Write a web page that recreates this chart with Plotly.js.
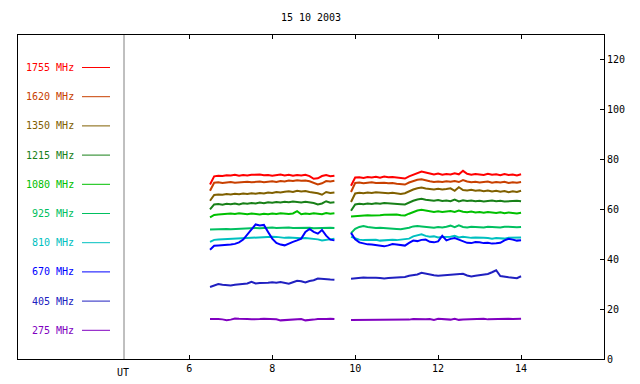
<!DOCTYPE html>
<html><head><meta charset="utf-8">
<script src="https://cdn.plot.ly/plotly-3.0.1.min.js"></script>
<style>html,body{margin:0;padding:0;background:#fff}#chart{width:640px;height:384px}</style>
</head><body><div id="chart"></div>
<script>
const titleText = "15 10 2003";
const times = [6.5,6.6,6.7,6.8,6.9,7.0,7.1,7.2,7.3,7.4,7.5,7.6,7.7,7.8,7.9,8.0,8.1,8.2,8.3,8.4,8.5,8.6,8.7,8.8,8.9,9.0,9.1,9.2,9.3,9.4,9.5,
  9.7,
  9.9,10.0,10.1,10.2,10.3,10.4,10.5,10.6,10.7,10.8,10.9,11.0,11.1,11.2,11.3,11.4,11.5,11.6,11.7,11.8,11.9,12.0,12.1,12.2,12.3,12.4,12.5,12.6,12.7,12.8,12.9,13.0,13.1,13.2,13.3,13.4,13.5,13.6,13.7,13.8,13.9,14.0];
const xTickVals = [6,8,10,12,14];
const yTickVals = [0,20,40,60,80,100,120];

const f1755 = [70.0,73.3,73.5,73.4,73.7,73.6,73.9,73.5,73.8,73.6,73.9,74.1,74.0,73.7,73.8,73.5,73.7,74.0,73.6,73.9,73.5,73.8,73.6,73.9,73.4,72.3,72.5,73.4,73.8,73.3,73.5,
  null,
  69.5,72.8,72.9,72.6,73.0,72.8,73.1,72.7,73.2,72.9,73.0,72.8,72.6,72.4,73.3,74.0,74.6,75.2,74.8,74.3,74.0,74.4,73.9,74.2,74.0,74.5,74.1,75.5,74.3,73.9,74.2,74.0,73.8,74.3,73.9,74.1,73.7,74.2,73.8,74.0,73.6,74.1];
const f1620 = [67.5,70.7,70.9,70.6,70.8,71.0,70.7,70.9,70.8,71.1,70.9,71.0,71.2,70.9,71.1,71.3,71.0,71.4,71.2,71.6,71.4,71.7,71.5,71.6,71.3,70.8,70.0,70.5,71.4,71.2,71.5,
  null,
  67.0,70.6,70.8,70.5,70.7,70.9,70.6,70.8,70.7,70.5,70.6,70.3,70.1,70.0,70.8,71.5,71.9,72.1,71.6,71.3,71.0,71.2,71.0,71.3,71.1,71.4,71.0,71.8,71.2,70.9,71.1,70.8,71.0,71.2,70.7,71.0,70.8,71.1,70.6,70.9,70.7,71.0];
const f1350 = [63.5,65.8,66.0,65.9,66.2,66.0,66.3,66.1,66.4,66.2,66.5,66.3,66.6,66.4,66.8,66.6,67.0,66.8,67.1,67.3,67.0,67.5,67.2,67.4,67.0,66.8,66.5,65.9,67.0,66.6,66.8,
  null,
  63.0,66.4,66.7,66.5,66.8,66.6,66.9,66.7,66.8,66.5,66.7,66.4,66.2,66.5,67.3,68.0,68.5,68.8,68.4,68.2,68.0,68.3,68.0,68.2,68.5,67.5,68.9,67.8,67.6,67.9,67.5,67.7,67.3,67.6,67.2,67.5,67.1,67.4,66.9,67.3,67.0,67.5];
const f1215 = [60.0,62.0,62.2,61.9,62.3,62.1,62.4,62.0,62.5,62.3,62.6,62.4,62.8,62.5,62.9,62.7,63.0,62.8,63.1,62.9,63.2,63.0,62.8,63.1,62.9,62.6,62.0,62.4,63.3,62.7,62.9,
  null,
  59.5,62.0,62.3,62.1,62.4,62.2,62.5,62.3,62.6,62.4,62.5,62.3,62.1,62.0,62.8,63.5,64.0,64.3,63.9,63.7,63.5,63.8,63.4,63.6,63.3,64.0,63.2,63.7,63.4,63.6,63.3,63.5,63.2,63.4,63.6,63.3,63.5,63.2,63.4,63.3,63.5,63.3];
const f1080 = [56.8,57.8,58.0,58.2,58.1,58.4,58.2,58.5,58.3,58.1,58.4,58.2,58.0,58.3,58.1,58.4,58.2,58.5,58.3,58.2,58.4,59.3,58.1,58.4,58.2,58.5,58.3,58.1,58.6,58.3,58.5,
  null,
  57.2,57.4,57.6,57.5,57.7,57.6,57.8,57.7,57.9,58.0,57.8,58.0,57.7,57.6,58.3,59.0,59.6,59.9,59.5,59.2,59.0,59.3,59.0,59.2,59.4,59.0,59.6,59.1,58.9,59.2,58.8,59.0,58.7,59.0,58.8,58.6,58.9,58.5,58.8,58.6,58.4,58.7];
const f925 = [52.0,52.1,52.0,52.1,52.2,52.1,52.2,52.4,52.6,52.5,52.7,52.6,52.5,52.7,52.6,52.8,52.6,52.7,52.5,52.8,52.6,52.7,52.8,52.6,52.7,52.5,52.6,52.8,52.6,52.7,52.6,
  null,
  50.5,52.2,53.0,53.4,53.0,52.7,52.6,52.7,52.5,52.6,52.4,52.2,52.1,52.3,52.7,53.2,53.4,53.2,53.0,52.9,52.7,53.0,52.8,53.1,53.5,52.9,53.6,53.0,52.8,53.1,52.9,53.0,52.8,53.1,52.9,53.0,52.8,53.1,52.9,53.0,52.9,53.0];
const f810 = [47.0,47.8,47.9,48.0,47.8,48.1,48.0,48.2,48.4,48.3,48.5,48.6,48.8,48.9,49.0,49.1,49.0,48.8,48.6,48.7,48.5,48.6,48.4,48.5,48.3,48.4,48.0,47.6,47.8,48.2,48.3,
  null,
  49.0,48.4,47.9,47.7,47.8,47.6,47.8,47.5,47.7,47.6,47.8,47.7,47.9,47.8,48.3,49.2,49.7,50.0,49.4,49.1,49.2,48.8,49.0,48.9,49.1,49.4,48.8,49.0,48.8,48.6,48.7,48.5,48.6,48.5,48.3,48.5,48.4,48.3,48.6,48.7,48.5,48.8];
const f670 = [43.8,45.4,45.5,45.6,45.5,45.9,46.2,46.8,47.9,49.8,52.0,54.0,53.6,53.8,51.0,48.3,46.6,45.9,45.6,46.4,47.0,47.6,48.3,51.0,52.2,51.0,50.3,51.8,49.5,47.9,47.6,
  null,
  50.6,48.0,46.8,46.3,46.0,45.9,45.6,45.4,45.2,45.6,46.1,45.9,45.6,45.5,46.6,47.5,47.3,47.8,47.9,47.0,46.8,47.2,49.4,47.6,48.2,48.5,47.9,47.2,46.6,46.5,46.9,46.8,46.5,46.6,46.3,46.4,46.6,47.6,48.2,47.9,47.5,47.6];
const f405 = [28.9,29.5,30.1,29.8,29.6,29.5,29.8,30.0,29.9,30.3,31.0,30.3,30.5,30.4,30.6,30.8,30.6,30.9,30.7,30.2,30.8,31.4,31.2,30.7,31.3,31.6,32.3,32.1,31.8,31.9,31.8,
  null,
  32.2,32.4,32.8,32.7,32.6,32.7,32.6,32.5,32.3,32.5,32.6,32.7,32.8,32.9,33.4,33.6,33.9,34.6,34.2,33.8,33.6,33.4,33.5,33.7,33.8,34.0,34.1,34.2,33.5,33.1,33.4,33.6,33.9,34.1,34.8,35.6,33.3,32.9,32.8,32.6,32.4,33.2];
const f275 = [16.0,16.1,16.0,15.9,15.6,15.8,16.2,16.1,15.9,16.0,15.9,16.1,16.0,16.1,16.0,16.1,15.9,15.5,15.6,15.8,16.0,15.9,16.0,15.5,15.5,15.8,16.0,15.9,16.0,16.1,16.0,
  null,
  15.6,15.6,15.7,15.6,15.7,15.6,15.6,15.7,15.6,15.6,15.7,15.6,15.8,15.7,15.8,16.0,15.9,15.8,15.9,16.0,15.7,16.1,15.9,16.0,15.8,16.1,15.7,15.8,15.9,15.8,16.0,15.9,16.1,15.9,16.0,15.9,16.0,16.2,16.1,16.0,16.2,16.1];

const labels = ["1755 MHz","1620 MHz","1350 MHz","1215 MHz","1080 MHz","925 MHz","810 MHz","670 MHz","405 MHz","275 MHz"];
const seriesList = [f1755,f1620,f1350,f1215,f1080,f925,f810,f670,f405,f275];
const colors = ["#ff0000","#c84000","#806000","#188018","#00c000","#00c060","#00c0c0","#0000ff","#2020c0","#8000c0"];

const FONT = "DejaVu Sans Mono, monospace";
const traces = seriesList.map((ys, i) => ({
  x: times, y: ys, type: "scatter", mode: "lines", connectgaps: false,
  line: {color: colors[i], width: 2}, hoverinfo: "skip", name: labels[i]
}));

// plot area in pixels: left 18, right 604, top 35, bottom 359
const L = 18, R = 604, T = 35, B = 359;
const px = v => (v - L) / (R - L);
const py = v => (B - v) / (B - T);

const annotations = [];
const shapes = [];
labels.forEach((lab, i) => {
  const yp = py(67.5 + i * 29.2);
  annotations.push({xref:"paper", yref:"paper", x: px(76), y: yp, xanchor:"right", yanchor:"middle",
    text: lab, showarrow:false, font:{family:FONT, size:10, color: colors[i]}});
  shapes.push({type:"line", xref:"paper", yref:"paper", x0: px(82), x1: px(110), y0: yp, y1: yp,
    line:{color: colors[i], width: 1}});
});
shapes.push({type:"line", xref:"paper", yref:"paper", x0: px(124), x1: px(124), y0: 0, y1: 1,
  line:{color:"#808080", width:1}});
annotations.push({xref:"paper", yref:"paper", x: px(123), y: 0, yshift: -6, xanchor:"center", yanchor:"top",
  text:"UT", showarrow:false, font:{family:FONT, size:10, color:"#000"}});

const layout = {
  width: 640, height: 384,
  margin: {l: L, r: 640 - R, t: T, b: 384 - B, pad: 0},
  paper_bgcolor: "#fff", plot_bgcolor: "#fff",
  showlegend: false,
  font: {family: FONT, size: 10, color: "#000"},
  title: {text: titleText, x: px(311), xref: "paper", y: 1 - 17/384, yanchor: "middle", font: {family: FONT, size: 10, color: "#000"}},
  xaxis: {range: [1.87, 16], tickvals: xTickVals, ticktext: xTickVals.map(String),
    ticks: "inside", ticklen: 4, tickcolor: "#000", showgrid: false, zeroline: false,
    showline: true, linecolor: "#000", linewidth: 1, mirror: "ticks",
    tickfont: {family: FONT, size: 10, color: "#000"}},
  yaxis: {range: [0, 130], side: "right", tickvals: yTickVals,
    ticks: "inside", ticklen: 4, tickcolor: "#000", showgrid: false, zeroline: false,
    showline: true, linecolor: "#000", linewidth: 1, mirror: true,
    tickfont: {family: FONT, size: 10, color: "#000"}},
  annotations: annotations,
  shapes: shapes
};
Plotly.newPlot("chart", traces, layout, {displayModeBar: false, staticPlot: true});
</script></body></html>
